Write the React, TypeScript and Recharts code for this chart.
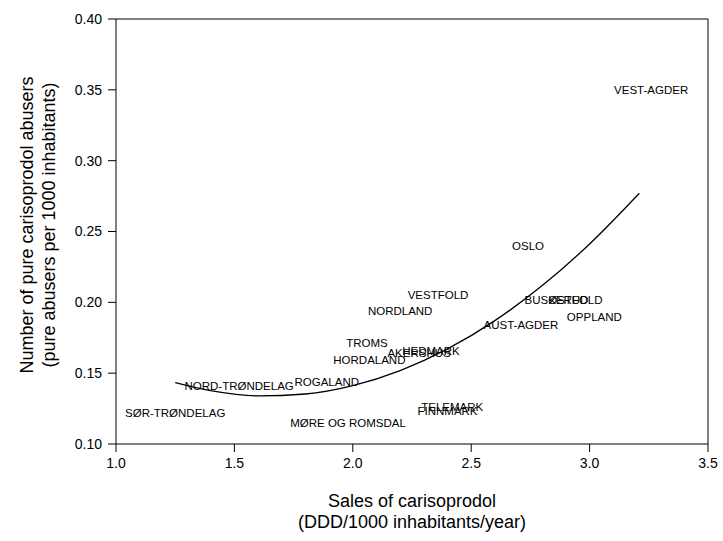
import { ComposedChart, XAxis, YAxis, Scatter, Line, ReferenceLine } from 'recharts';

const counties = [
  'VEST-AGDER', 'OSLO', 'VESTFOLD', 'NORDLAND', 'BUSKERUD', 'ØSTFOLD', 'OPPLAND',
  'AUST-AGDER', 'TROMS', 'HORDALAND', 'AKERSHUS', 'HEDMARK', 'ROGALAND',
  'NORD-TRØNDELAG', 'SØR-TRØNDELAG', 'MØRE OG ROMSDAL', 'TELEMARK', 'FINNMARK',
];
const sales = [3.26, 2.74, 2.36, 2.2, 2.86, 2.94, 3.02, 2.71, 2.06, 2.07, 2.28, 2.33, 1.89, 1.52, 1.25, 1.98, 2.42, 2.4];
const abusers = [0.35, 0.24, 0.205, 0.194, 0.202, 0.202, 0.19, 0.184, 0.171, 0.159, 0.164, 0.166, 0.144, 0.141, 0.122, 0.115, 0.126, 0.123];

// fitted curve
const fitX = [1.25, 1.4, 1.6, 1.8, 2.0, 2.2, 2.4, 2.6, 2.8, 3.0, 3.21];
const fitY = [0.1434, 0.1377, 0.134, 0.1353, 0.1412, 0.1518, 0.1671, 0.1871, 0.2118, 0.2412, 0.277];

const xTicks = [1.0, 1.5, 2.0, 2.5, 3.0, 3.5];
const yTicks = [0.1, 0.15, 0.2, 0.25, 0.3, 0.35, 0.4];

const points = counties.map((name, i) => ({ name, x: sales[i], y: abusers[i] }));
const curve = fitX.map((x, i) => ({ x, y: fitY[i] }));

const FONT = '"Liberation Sans", Arial, sans-serif';

const CountyLabel = (props: any) => {
  const { cx, cy, payload } = props;
  return (
    <text x={cx} y={cy} textAnchor="middle" dominantBaseline="central" fontSize={11.5} fontFamily={FONT} fill="#000">
      {payload.name}
    </text>
  );
};

const XTitle = ({ viewBox }: any) => {
  const cx = viewBox.x + viewBox.width / 2;
  return (
    <text textAnchor="middle" fontSize={18} fontFamily={FONT} fill="#000">
      <tspan x={cx} y={507}>Sales of carisoprodol</tspan>
      <tspan x={cx} y={528}>(DDD/1000 inhabitants/year)</tspan>
    </text>
  );
};

const YTitle = () => {
  const cy = 225;
  return (
    <text textAnchor="middle" fontSize={18} fontFamily={FONT} fill="#000" transform={`rotate(-90, 0, ${cy})`}>
      <tspan x={0} y={cy + 33}>Number of pure carisoprodol abusers</tspan>
      <tspan x={0} y={cy + 55}>(pure abusers per 1000 inhabitants)</tspan>
    </text>
  );
};

export default function App() {
  return (
    <div style={{ position: 'absolute', left: 0, top: 0, background: '#fff' }}>
      <ComposedChart width={723} height={541} margin={{ top: 19, right: 15, bottom: 0, left: 0 }}>
        <XAxis
          type="number"
          dataKey="x"
          domain={[1, 3.5]}
          ticks={xTicks}
          tickFormatter={(v: number) => v.toFixed(1)}
          height={97}
          tickSize={8}
          tickMargin={6}
          stroke="#000"
          tick={{ fill: '#000', fontSize: 14, fontFamily: FONT }}
          label={<XTitle />}
        />
        <YAxis
          type="number"
          dataKey="y"
          domain={[0.1, 0.4]}
          ticks={yTicks}
          tickFormatter={(v: number) => v.toFixed(2)}
          width={116}
          tickSize={8}
          tickMargin={6}
          stroke="#000"
          tick={{ fill: '#000', fontSize: 14, fontFamily: FONT }}
          label={<YTitle />}
        />
        <ReferenceLine y={0.4} stroke="#000" />
        <ReferenceLine x={3.5} stroke="#000" />
        <Line data={curve} dataKey="y" type="monotone" stroke="#000" strokeWidth={1.3} dot={false} isAnimationActive={false} />
        <Scatter data={points} dataKey="y" shape={<CountyLabel />} isAnimationActive={false} />
      </ComposedChart>
    </div>
  );
}
